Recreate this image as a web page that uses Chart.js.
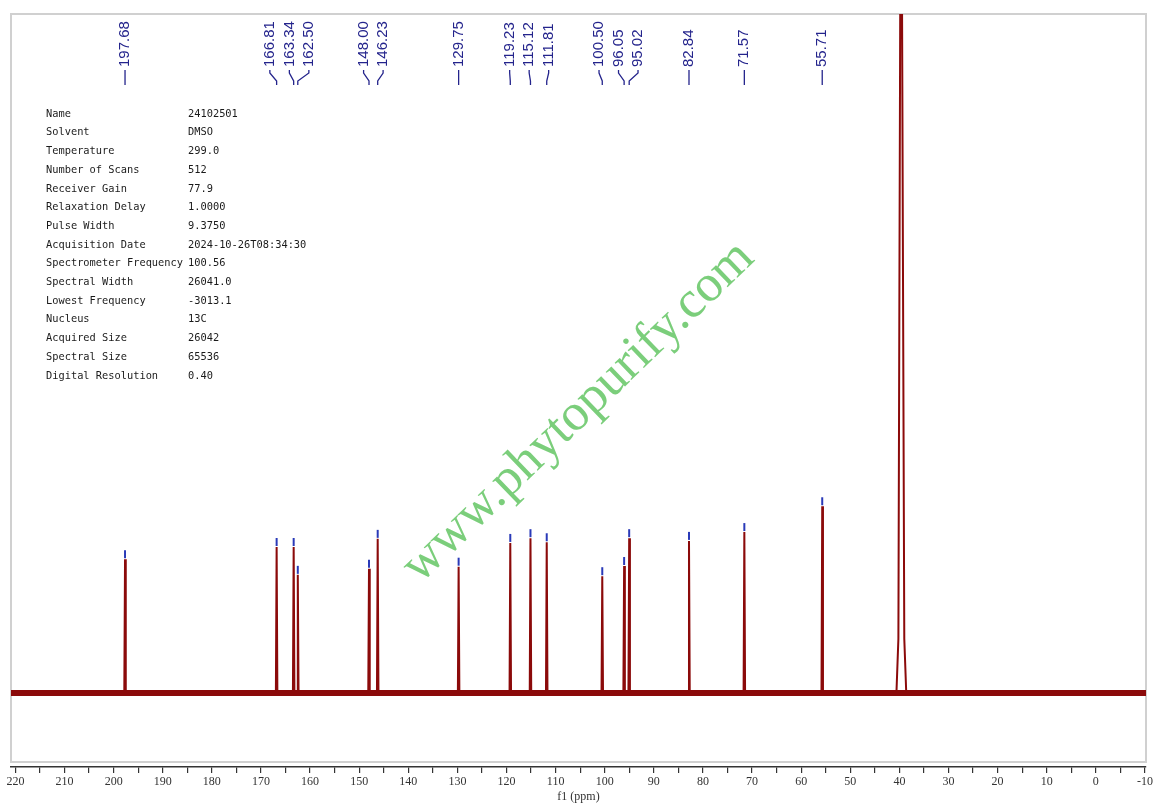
<!DOCTYPE html>
<html><head><meta charset="utf-8">
<script src="https://cdn.jsdelivr.net/npm/chart.js@4/dist/chart.umd.min.js"></script>
<style>html,body{margin:0;padding:0;background:#fff;} canvas{display:block;}</style>
</head><body>
<canvas id="c" width="1158" height="811"></canvas>
<script>
// ---- data ----
const peakPpm = [197.68,166.81,163.34,162.50,148.00,146.23,129.75,119.23,115.12,111.81,100.50,96.05,95.02,82.84,71.57,55.71];
const peakHeight = [19.7,21.5,21.5,17.4,18.3,22.7,18.6,22.1,22.8,22.2,17.2,18.7,22.8,22.4,23.7,27.5];
const peakLabels = ['197.68','166.81','163.34','162.50','148.00','146.23','129.75','119.23','115.12','111.81','100.50','96.05','95.02','82.84','71.57','55.71'];
const solventPpm = [40.6,40.2,39.75,39.55,39.0,38.6];
const solventHeight = [0,8,120,120,8,0];
const ppmRange = [220.9,-10.22];
const paramNames = ['Name','Solvent','Temperature','Number of Scans','Receiver Gain','Relaxation Delay','Pulse Width','Acquisition Date','Spectrometer Frequency','Spectral Width','Lowest Frequency','Nucleus','Acquired Size','Spectral Size','Digital Resolution'];
const paramValues = ['24102501','DMSO','299.0','512','77.9','1.0000','9.3750','2024-10-26T08:34:30','100.56','26041.0','-3013.1','13C','26042','65536','0.40'];
const watermarkText = 'www.phytopurify.com';
const axisTitle = 'f1 (ppm)';

// ---- build spectrum trace from the arrays ----
const pts = [];
peakPpm.forEach((p,i)=>{ pts.push({x:p+0.15,y:0},{x:p,y:peakHeight[i]},{x:p-0.15,y:0}); });
solventPpm.forEach((p,i)=>pts.push({x:p,y:solventHeight[i]}));
pts.push({x:ppmRange[0],y:0},{x:ppmRange[1],y:0});
pts.sort((a,b)=>b.x-a.x);
const baseline = [{x:ppmRange[0],y:0},{x:ppmRange[1],y:0}];

const RED = '#8b0a0a';
const NAVY = '#24248c';

const frame = {
  id:'frame',
  beforeDatasetsDraw(chart){
    const a = chart.chartArea, ctx = chart.ctx;
    ctx.save(); ctx.strokeStyle='#d0d0d0'; ctx.lineWidth=2;
    ctx.strokeRect(a.left, a.top, a.right-a.left, a.bottom-5-a.top);
    ctx.restore();
  }
};

const peakAnno = {
  id:'peakAnno',
  afterDatasetsDraw(chart){
    const xs = chart.scales.x, ys = chart.scales.y, ctx = chart.ctx, top = chart.chartArea.top;
    ctx.save();
    // peak-pick markers
    ctx.strokeStyle = '#2a3ab8'; ctx.lineWidth = 2;
    peakPpm.forEach((p,i)=>{
      const x = xs.getPixelForValue(p), y = ys.getPixelForValue(peakHeight[i]);
      ctx.beginPath(); ctx.moveTo(x,y-1); ctx.lineTo(x,y-9); ctx.stroke();
    });
    // label spreading
    const px = peakPpm.map(p=>xs.getPixelForValue(p));
    const S = 19.5;
    let groups = px.map((x,i)=>({m:[i]}));
    const center = g => g.m.reduce((s,i)=>s+px[i],0)/g.m.length;
    let merged = true;
    while (merged){
      merged = false;
      for (let k=0;k<groups.length-1;k++){
        const g1=groups[k], g2=groups[k+1];
        const last1 = center(g1)+(g1.m.length-1)/2*S;
        const first2 = center(g2)-(g2.m.length-1)/2*S;
        if (first2 - last1 < S){ groups.splice(k,2,{m:g1.m.concat(g2.m)}); merged = true; break; }
      }
    }
    const lx = [];
    groups.forEach(g=>{ const c=center(g); g.m.forEach((i,k)=>{ lx[i] = c+(k-(g.m.length-1)/2)*S; }); });
    ctx.strokeStyle = NAVY; ctx.fillStyle = NAVY; ctx.lineWidth = 1.3;
    ctx.font = '15px "Liberation Sans", Arial, sans-serif';
    ctx.textAlign = 'left'; ctx.textBaseline = 'middle';
    peakLabels.forEach((t,i)=>{
      ctx.save(); ctx.translate(lx[i], top+53); ctx.rotate(-Math.PI/2); ctx.fillText(t,0,0); ctx.restore();
      ctx.beginPath();
      ctx.moveTo(lx[i], top+56); ctx.lineTo(lx[i], top+59);
      ctx.lineTo(px[i], top+67); ctx.lineTo(px[i], top+71);
      ctx.stroke();
    });
    ctx.restore();
  },
  afterDraw(chart){
    const ctx = chart.ctx;
    ctx.save();
    ctx.fillStyle = '#1a1a1a';
    ctx.font = '10.35px "DejaVu Sans Mono", "Liberation Mono", monospace';
    ctx.textAlign='left'; ctx.textBaseline='middle';
    paramNames.forEach((n,i)=>{
      const y = 114 + i*18.71;
      ctx.fillText(n, 46, y);
      const vx = Math.max(188, 46 + ctx.measureText(n).width + 1);
      ctx.fillText(paramValues[i], vx, y);
    });
    // watermark
    ctx.translate(588, 422); ctx.rotate(-44*Math.PI/180);
    ctx.font = '52px "Liberation Serif", "Times New Roman", serif';
    ctx.fillStyle = 'rgba(112,202,112,0.92)';
    ctx.textAlign = 'center'; ctx.textBaseline = 'alphabetic';
    ctx.fillText(watermarkText, 0, 0);
    ctx.restore();
  }
};

new Chart(document.getElementById('c'), {
  type:'line',
  data:{ datasets:[
    {data:baseline, borderColor:RED, borderWidth:6, pointRadius:0, tension:0},
    {data:pts, borderColor:RED, borderWidth:2, pointRadius:0, tension:0}
  ]},
  options:{
    responsive:false, animation:false, devicePixelRatio:1,
    layout:{padding:{left:11,right:12,top:14,bottom:0}},
    plugins:{legend:{display:false}, tooltip:{enabled:false}},
    scales:{
      x:{type:'linear', reverse:true, min:ppmRange[1], max:ppmRange[0],
        afterFit(s){ s.height = 44; s.paddingLeft = 0; s.paddingRight = 0; },
        ticks:{stepSize:5, autoSkip:false, maxRotation:0, minRotation:0, includeBounds:false, padding:2, color:'#333',
          font:{family:'"Liberation Serif", serif', size:12},
          callback:v=>{const r=Math.round(v); return r%10===0 ? String(r) : '';}},
        grid:{display:true, drawOnChartArea:false, drawTicks:true, tickLength:6, color:'#333', lineWidth:1.2},
        border:{display:true, color:'#333', width:1.5},
        title:{display:true, text:axisTitle, color:'#333', font:{family:'"Liberation Serif", serif', size:12}, padding:{top:2,bottom:7}}
      },
      y:{display:false, min:-10.9, max:100}
    }
  },
  plugins:[frame, peakAnno]
});
</script>
</body></html>
